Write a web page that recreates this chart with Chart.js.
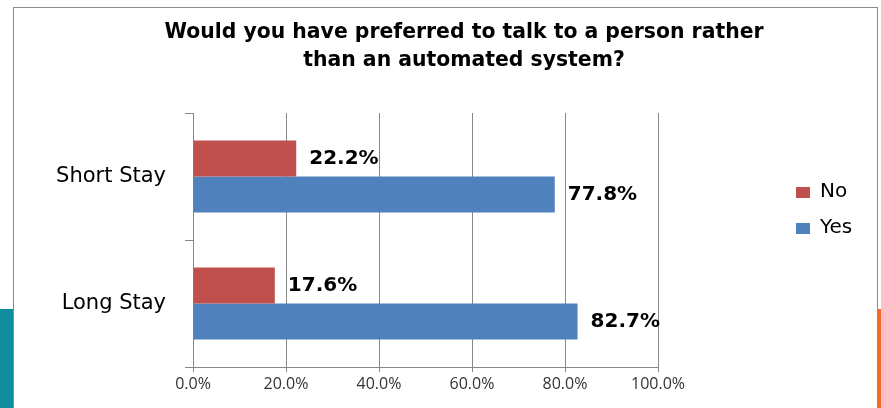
<!DOCTYPE html>
<html>
<head>
<meta charset="utf-8">
<script src="https://cdn.jsdelivr.net/npm/chart.js@4.4.0/dist/chart.umd.min.js"></script>
<style>
  html, body { margin: 0; padding: 0; background: #fff; }
  #wrap { position: relative; width: 881px; height: 408px; overflow: hidden; }
  #frame { position: absolute; left: 13px; top: 7px; width: 863px; height: 420px; border: 1px solid #8c8c8c; }
  #stripe-left { position: absolute; left: 0; top: 309px; width: 13px; height: 99px; background: #0e8d9d; }
  #stripe-right { position: absolute; left: 877px; top: 309px; width: 4px; height: 99px; background: #f36b24; }
  canvas { position: absolute; left: 0; top: 0; }
</style>
</head>
<body>
<div id="wrap">
  <div id="frame"></div>
  <div id="stripe-left"></div>
  <div id="stripe-right"></div>
  <canvas id="chart" width="881" height="408"></canvas>
</div>
<script>
// Survey answers, percent of respondents
const categories = ['Short Stay', 'Long Stay'];
const noValues = [22.2, 17.6];
const yesValues = [77.8, 82.7];
const seriesNames = ['No', 'Yes'];
const seriesColors = ['#c0504d', '#4f81bd'];
const titleLines = ['Would you have preferred to talk to a person rather', 'than an automated system?'];

const WIDE = "'DejaVu Sans', sans-serif";
const NARROW = "'Open Sans', sans-serif";

// two-line title centred over the plot plus legend
const topTitle = {
    id: 'topTitle',
    afterDraw(chart) {
        const c = chart.ctx;
        c.save();
        c.font = "bold 20.4px " + WIDE;
        c.fillStyle = '#000';
        c.textAlign = 'center';
        c.textBaseline = 'middle';
        titleLines.forEach((line, i) => c.fillText(line, 464, 33 + i * 28));
        c.restore();
    }
};

// value labels at the end of each bar
const valueLabels = {
    id: 'valueLabels',
    afterDatasetsDraw(chart) {
        const c = chart.ctx;
        c.save();
        c.font = "bold 20px " + WIDE;
        c.fillStyle = '#000';
        c.textBaseline = 'middle';
        c.textAlign = 'left';
        chart.data.datasets.forEach((ds, i) => {
            chart.getDatasetMeta(i).data.forEach((bar, j) => {
                c.fillText(ds.data[j].toFixed(1) + '%', bar.x + 13, bar.y);
            });
        });
        c.restore();
    }
};

// legend on the right, drawn by hand so it sits where Excel put it
const sideLegend = {
    id: 'sideLegend',
    afterDraw(chart) {
        const c = chart.ctx;
        c.save();
        c.font = "20px " + WIDE;
        c.textBaseline = 'middle';
        chart.data.datasets.forEach((ds, i) => {
            const y = 192 + i * 36;
            c.fillStyle = ds.backgroundColor;
            c.fillRect(796, y - 5, 14, 11);
            c.fillStyle = '#000';
            c.fillText(ds.label, 820, y);
        });
        c.restore();
    }
};

new Chart(document.getElementById('chart'), {
    type: 'bar',
    data: {
        labels: categories,
        datasets: [
            { label: seriesNames[0], data: noValues, backgroundColor: seriesColors[0] },
            { label: seriesNames[1], data: yesValues, backgroundColor: seriesColors[1] }
        ]
    },
    options: {
        indexAxis: 'y',
        responsive: false,
        animation: false,
        categoryPercentage: 0.567,
        barPercentage: 1,
        layout: { padding: { left: 0, right: 223, top: 113, bottom: 0 } },
        plugins: {
            legend: { display: false },
            tooltip: { enabled: false },
            title: { display: false }
        },
        scales: {
            x: {
                min: 0,
                max: 100,
                ticks: {
                    stepSize: 20,
                    color: '#333',
                    padding: 3,
                    font: { family: NARROW, size: 16 },
                    callback: v => v.toFixed(1) + '%'
                },
                grid: { color: '#878787', tickLength: 5 },
                border: { color: '#878787' },
                afterFit(scale) { scale.height = 41; }
            },
            y: {
                ticks: {
                    color: '#000',
                    padding: 19,
                    font: { family: WIDE, size: 21 }
                },
                grid: { offset: true, drawOnChartArea: false, tickLength: 8, color: '#878787' },
                border: { color: '#878787' },
                afterFit(scale) { scale.width = 193; }
            }
        }
    },
    plugins: [topTitle, valueLabels, sideLegend]
});
</script>
</body>
</html>
